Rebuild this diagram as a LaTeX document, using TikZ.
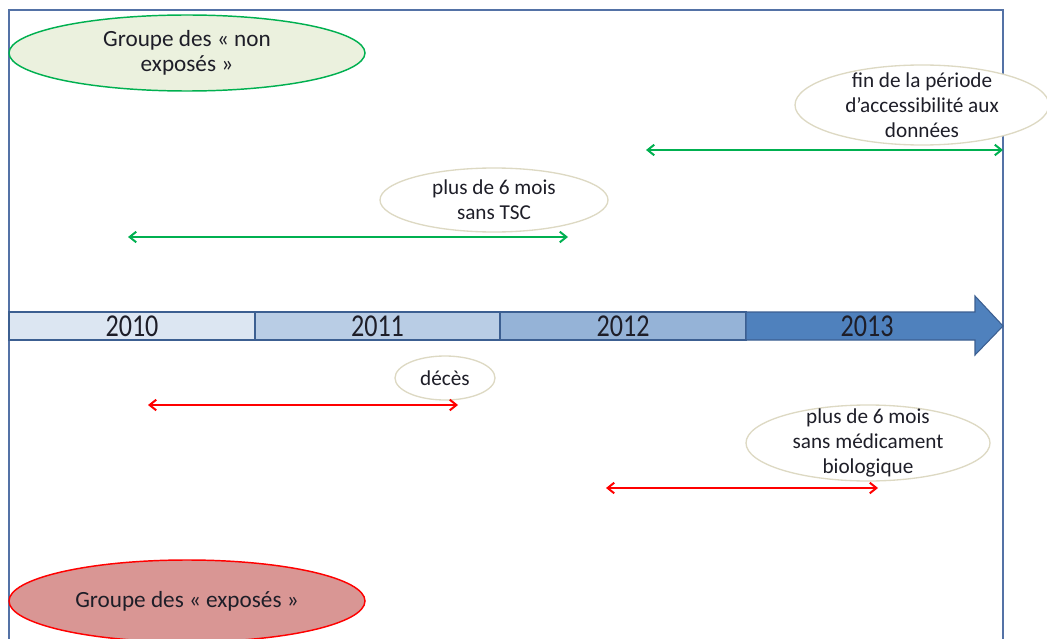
\documentclass[tikz,border=0pt]{standalone}
\usepackage{fontspec}
\setmainfont{Carlito}
\usetikzlibrary{shapes.geometric,arrows.meta}
\definecolor{cadre}{RGB}{84,114,166}
\definecolor{bleuBord}{RGB}{60,95,145}
\definecolor{bleuA}{RGB}{220,230,242}
\definecolor{bleuB}{RGB}{185,205,229}
\definecolor{bleuC}{RGB}{149,179,215}
\definecolor{bleuD}{RGB}{79,129,189}
\definecolor{vert}{RGB}{0,176,80}
\definecolor{vertClair}{RGB}{235,241,222}
\definecolor{rouge}{RGB}{255,0,0}
\definecolor{rougeClair}{RGB}{217,150,148}
\definecolor{beige}{RGB}{221,217,195}
\definecolor{texte}{RGB}{30,30,40}
\newcommand{\pix}{0.0265cm}

\begin{document}
\begin{tikzpicture}[x=\pix,y=-\pix,
    bulle/.style={ellipse,draw=beige,line width=1pt,fill=white,inner sep=0pt},
    etiq/.style={align=center,text=texte,font=\fontsize{16}{18.8}\selectfont},
    etiqgr/.style={align=center,text=texte,font=\fontsize{17.5}{18.8}\selectfont},
    annee/.style={text=texte,font=\fontsize{24}{26}\selectfont},
    fleche/.style={{Straight Barb[length=5pt,width=8pt]}-{Straight Barb[length=5pt,width=8pt]},line width=1.5pt}]
  \useasboundingbox (0,0) rectangle (1047,639);
  \clip (0,0) rectangle (1047,639);
  % cadre
  \draw[cadre,line width=2pt] (9,639) -- (9,10) -- (1003,10) -- (1003,639);
  % frise
  \foreach \an/\xa/\xb/\teinte in {2010/9/255/bleuA,2011/255/500/bleuB,2012/500/746/bleuC}
  {
    \filldraw[fill=\teinte,draw=bleuBord,line width=0.8pt] (\xa,312) rectangle (\xb,340);
    \node[annee] (an\an) at ({(\xa+\xb)/2},326) {\scalebox{0.82}[1]{\an}};
  }
  \filldraw[fill=bleuD,draw=bleuBord,line width=0.8pt] (746,312) -- (975,312) -- (975,296)
    -- (1003,326) -- (975,355) -- (975,340) -- (746,340) -- cycle;
  \node[annee] (an2013) at (867,326) {\scalebox{0.82}[1]{2013}};
  % groupes
  \node[ellipse,draw=vert,fill=vertClair,line width=1.1pt,minimum width=356*\pix,minimum height=76*\pix,
    label={[etiqgr]center:Groupe des « non\\exposés »}] (nonexp) at (187,53) {};
  \node[ellipse,draw=rouge,fill=rougeClair,line width=1.1pt,minimum width=356*\pix,minimum height=82*\pix,
    label={[etiqgr]center:Groupe des « exposés »}] (exp) at (187,601) {};
  % evenements
  \node[bulle,minimum width=254*\pix,minimum height=80*\pix,
    label={[etiq]center:fin de la période\\d’accessibilité aux\\données}] (fin) at (922,105) {};
  \node[bulle,minimum width=228*\pix,minimum height=64*\pix,
    label={[etiq]center:plus de 6 mois\\sans TSC}] (tsc) at (494,200) {};
  \node[bulle,minimum width=100*\pix,minimum height=44*\pix,
    label={[etiq]center:décès}] (deces) at (445,378) {};
  \node[bulle,minimum width=244*\pix,minimum height=76*\pix,
    label={[etiq]center:plus de 6 mois\\sans médicament\\biologique}] (bio) at (868,443) {};
  % periodes
  \coordinate (tscA) at (128,237);
  \coordinate (tscB) at (568,237);
  \coordinate (finA) at (646,150);
  \coordinate (finB) at (1003,150);
  \coordinate (decesA) at (148,405);
  \coordinate (decesB) at (458,405);
  \coordinate (bioA) at (606,488);
  \coordinate (bioB) at (878,488);
  \draw[fleche,vert] (tscA) -- (tscB);
  \draw[fleche,vert] (finA) -- (finB);
  \draw[fleche,rouge] (decesA) -- (decesB);
  \draw[fleche,rouge] (bioA) -- (bioB);
\end{tikzpicture}
\end{document}
